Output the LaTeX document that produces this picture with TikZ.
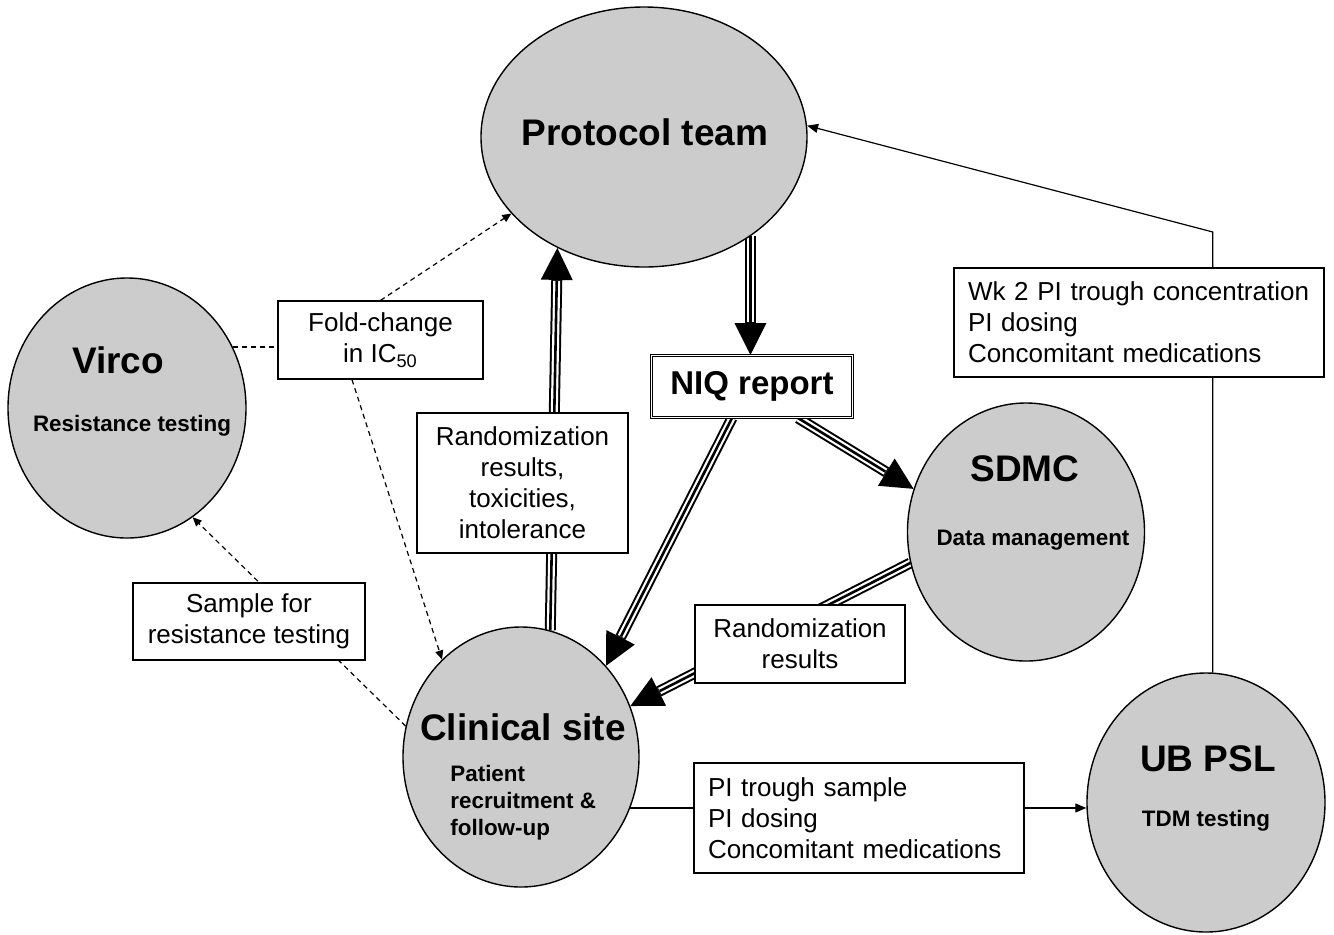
\documentclass[tikz,border=0pt]{standalone}
\usepackage{fontspec}
\setmainfont{Liberation Sans}
\usetikzlibrary{arrows.meta,shapes.geometric,calc}
\pgfdeclarelayer{bg}
\pgfsetlayers{bg,main}
\definecolor{nodegray}{RGB}{204,204,204}
\begin{document}
\begin{tikzpicture}[x=0.5pt,y=-0.5pt,
  ent/.style={ellipse, draw=black, line width=0.7pt, fill=nodegray, inner sep=0pt},
  big/.style={font=\fontsize{18.5}{22}\selectfont\bfseries, inner sep=0pt, anchor=base},
  subtxt/.style={font=\fontsize{11.2}{13.5}\selectfont\bfseries, inner sep=0pt, anchor=base},
  box/.style={draw=black, line width=0.6pt, fill=white, inner sep=0pt, align=center, font=\fontsize{13}{15.5}\selectfont},
  triple/.style={line width=5.5pt, -{Triangle[length=16pt,width=16pt,line width=0pt]},
    postaction={draw=white, line width=3.5pt, -, shorten >=16.5pt},
    postaction={draw=black, line width=1.3pt, -, shorten >=16.5pt}},
  dasharrow/.style={line width=0.6pt, dash pattern=on 2.5pt off 2pt, -{Triangle[length=4.5pt,width=4pt]}},
  dashline/.style={line width=0.6pt, dash pattern=on 2.5pt off 2pt},
  solidarrow/.style={line width=0.6pt, -{Triangle[length=5.5pt,width=4.5pt]}}
]
\useasboundingbox (0,0) rectangle (1334,934);

% entities
\node[ent, minimum width=163pt, minimum height=130pt] (prot) at (644,137) {};
\node[ent, minimum width=119pt, minimum height=130pt] (virco) at (127,408) {};
\node[ent, minimum width=118.5pt, minimum height=129pt] (sdmc) at (1026,532) {};
\node[ent, minimum width=118pt, minimum height=130pt] (clin) at (521,757) {};
\node[ent, minimum width=119pt, minimum height=129.5pt] (ubpsl) at (1206,802.5) {};

% entity labels
\node[big] (protT) at (645,145) {Protocol team};
\node[big] (vircoT) at (118,373) {Virco};
\node[subtxt] (vircoS) at (132,431) {Resistance testing};
\node[big] (sdmcT) at (1025,481) {SDMC};
\node[subtxt] (sdmcS) at (1033,545) {Data management};
\node[big] (clinT) at (523,740) {Clinical site};
\node[subtxt, anchor=north west, align=left] (clinS) at (450,765) {Patient\\recruitment \&\\follow-up};
\node[big] (ubT) at (1208,771) {UB PSL};
\node[subtxt] (ubS) at (1206,826) {TDM testing};

% boxes
\node[box, line width=0.5pt, double, double distance=0.6pt, minimum width=100.5pt, minimum height=31pt,
      font=\fontsize{16.5}{20}\selectfont\bfseries] (niq) at (752,386.5) {NIQ report};
\node[box, minimum width=102.5pt, minimum height=39pt] (fold) at (380.5,340) {Fold-change\\in IC\textsubscript{50}};
\node[box, minimum width=105.5pt, minimum height=70pt] (rand1) at (522.5,483) {Randomization\\results,\\toxicities,\\intolerance};
\node[box, minimum width=116pt, minimum height=38.5pt] (sample) at (249,621.5) {Sample for\\resistance testing};
\node[box, minimum width=105pt, minimum height=39pt] (rand2) at (800,644) {Randomization\\results};
\node[box, minimum width=165pt, minimum height=55pt, text width=151pt, align=left] (pi) at (859,818) {PI trough sample\\PI dosing\\Concomitant medications};
\node[box, minimum width=185pt, minimum height=54.5pt, text width=171pt, align=left] (wk) at (1139,322.5) {Wk 2 PI trough concentration\\PI dosing\\Concomitant medications};

\coordinate (bend) at (1213,232);

\begin{pgfonlayer}{bg}
  \draw[triple] (clin.77.8) -- (prot.232.9);
  \draw[triple] (prot.-43.3) -- (prot.-43.3 |- niq.north);
  \draw[triple] ([xshift=-10pt]niq.south) -- (clin.47.5);
  \draw[triple] ([xshift=23pt]niq.south) -- (sdmc.159.4);
  \draw[triple] (sdmc.195.2) -- (clin.25.3);

  \draw[dasharrow] (fold.north) -- (prot.210.4);
  \draw[dashline] (virco.30.8) -- (virco.30.8 -| fold.west);
  \draw[dasharrow] ([xshift=-14.25pt]fold.south) -- (clin.129.7);
  \draw[dasharrow] (clin.165.7) -- (virco.-59.9);

  \draw[solidarrow] (ubpsl.87) -- (ubpsl.87 |- bend) -- (prot.4.9);
  \draw[solidarrow] (clin.-25.3) -- (clin.-25.3 -| ubpsl.west);
\end{pgfonlayer}
\end{tikzpicture}
\end{document}
